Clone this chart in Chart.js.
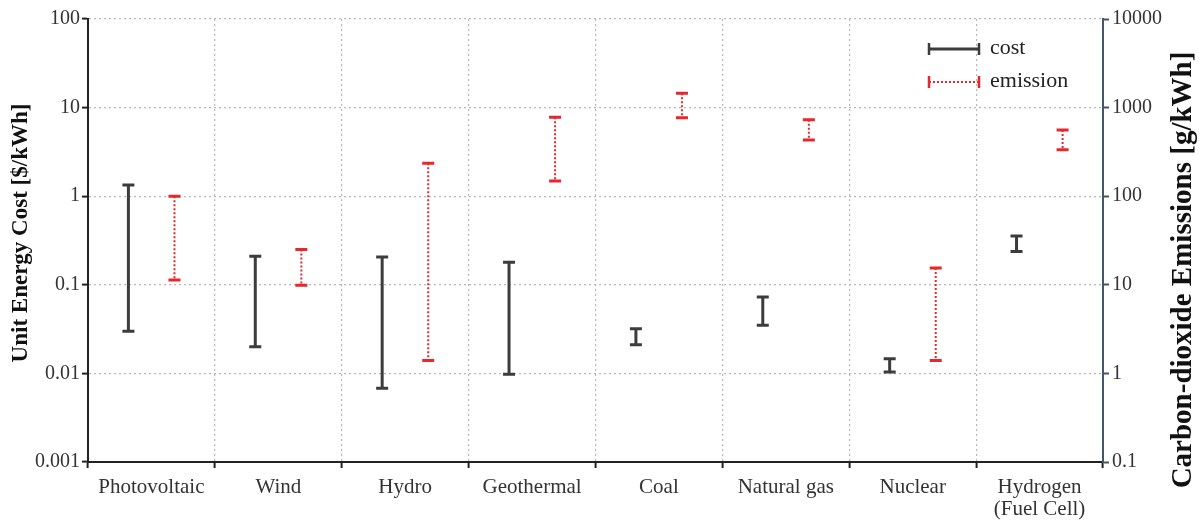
<!DOCTYPE html>
<html>
<head>
<meta charset="utf-8">
<script src="https://cdn.jsdelivr.net/npm/chart.js@4.4.0/dist/chart.umd.min.js"></script>
<style>
  html, body { margin: 0; padding: 0; background: #fff; }
  #wrap { width: 1199px; height: 521px; }
</style>
</head>
<body>
<div id="wrap"><canvas id="energy"></canvas></div>
<script>
/*_____________________DATA____________________*/

const categories = ['Photovoltaic', 'Wind', 'Hydro', 'Geothermal', 'Coal',
                    'Natural gas', 'Nuclear', ['Hydrogen', '(Fuel Cell)']];

// unit energy cost [$/kWh]
const costLow  = [0.030, 0.020, 0.0068, 0.0098, 0.021, 0.035, 0.0104, 0.237];
const costHigh = [1.34, 0.21, 0.206, 0.18, 0.032, 0.073, 0.0146, 0.355];

// CO2 emissions [g/kWh]
const emissionLow  = [11.3, 9.9, 1.4, 148, 770, 430, 1.4, 335];
const emissionHigh = [100, 25, 236, 780, 1450, 730, 15.5, 560];

const costTicks = [0.001, 0.01, 0.1, 1, 10, 100];
const emissionTicks = [0.1, 1, 10, 100, 1000, 10000];

/*_____________________SETUP____________________*/

const serif = "'Liberation Serif', 'Times New Roman', serif";
const gridGrey = '#b8b8b8';

const energy_setup = {
  labels: categories,
  datasets: [
    {
      label: 'cost',
      data: costLow.map((v, i) => [v, costHigh[i]]),
      yAxisID: 'y',
      backgroundColor: 'rgba(0,0,0,0)',
      borderWidth: 0,
      lineColor: '#3c3c3c',
      lineW: 3,
      dash: [],
    },
    {
      label: 'emission',
      data: emissionLow.map((v, i) => [v, emissionHigh[i]]),
      yAxisID: 'y2',
      backgroundColor: 'rgba(0,0,0,0)',
      borderWidth: 0,
      lineColor: '#e8262c',
      lineW: 2,
      dash: [2, 2],
    }
  ]
}

function sideTitle(ctx, text, x, y, size) {
  ctx.save();
  ctx.translate(x, y);
  ctx.rotate(-Math.PI / 2);
  ctx.fillStyle = '#111';
  ctx.font = 'bold ' + size + 'px ' + serif;
  ctx.textAlign = 'center';
  ctx.textBaseline = 'middle';
  ctx.fillText(text, 0, 0);
  ctx.restore();
}

// draws range lines with caps on top of the (invisible) floating bars
const errorBars = {
  id: 'errorBars',
  afterDatasetsDraw(chart) {
    const ctx = chart.ctx;
    chart.data.datasets.forEach((ds, i) => {
      chart.getDatasetMeta(i).data.forEach(bar => {
        const top = Math.min(bar.y, bar.base);
        const bot = Math.max(bar.y, bar.base);
        ctx.save();
        ctx.strokeStyle = ds.lineColor;
        ctx.lineWidth = ds.lineW;
        ctx.setLineDash(ds.dash);
        ctx.beginPath();
        ctx.moveTo(bar.x, top);
        ctx.lineTo(bar.x, bot);
        ctx.stroke();
        ctx.setLineDash([]);
        ctx.lineWidth = 3;
        ctx.beginPath();
        ctx.moveTo(bar.x - 6, top); ctx.lineTo(bar.x + 6, top);
        ctx.moveTo(bar.x - 6, bot); ctx.lineTo(bar.x + 6, bot);
        ctx.stroke();
        ctx.restore();
      });
    });
  },
  afterDraw(chart) {
    const ctx = chart.ctx;
    const area = chart.chartArea;
    // legend
    const x0 = area.right - 174, x1 = area.right - 124;
    chart.data.datasets.forEach((ds, i) => {
      const y = 49 + i * 33;
      ctx.save();
      ctx.strokeStyle = ds.lineColor;
      ctx.lineWidth = ds.lineW;
      ctx.setLineDash(ds.dash);
      ctx.beginPath();
      ctx.moveTo(x0, y); ctx.lineTo(x1, y);
      ctx.stroke();
      ctx.setLineDash([]);
      ctx.lineWidth = 2.5;
      ctx.beginPath();
      ctx.moveTo(x0, y - 6); ctx.lineTo(x0, y + 6);
      ctx.moveTo(x1, y - 6); ctx.lineTo(x1, y + 6);
      ctx.stroke();
      ctx.fillStyle = '#222';
      ctx.font = '22px ' + serif;
      ctx.textBaseline = 'middle';
      ctx.textAlign = 'left';
      ctx.fillText(ds.label, x1 + 11, y - 1);
      ctx.restore();
    });
    // axis titles, both read bottom to top
    sideTitle(ctx, 'Unit Energy Cost [$/kWh]', 21, 233, 23);
    sideTitle(ctx, 'Carbon-dioxide Emissions [g/kWh]', 1184, 270, 29);
  }
};

const energy = document.getElementById('energy');
new Chart(energy, {
  type: 'bar',
  data: energy_setup,
  plugins: [errorBars],
  options: {
    responsive: true,
    maintainAspectRatio: false,
    animation: false,
    layout: {padding: {top: 19, left: 0, right: 0, bottom: 0}},
    plugins: {
      legend: {display: false},
      tooltip: {enabled: false},
    },
    datasets: {
      bar: {categoryPercentage: 0.726, barPercentage: 1}
    },
    scales: {
      x: {
        type: 'category',
        offset: true,
        afterFit: s => { s.height = 59; },
        grid: {offset: true, color: gridGrey, lineWidth: 1.2, tickColor: '#222',
               tickLength: 6, tickWidth: 2},
        border: {color: '#222', width: 2, dash: [2, 3]},
        ticks: {color: '#333', font: {family: serif, size: 21, lineHeight: 1.05}, padding: 8,
                maxRotation: 0, autoSkip: false},
      },
      y: {
        type: 'logarithmic',
        position: 'left',
        min: 0.001,
        max: 100,
        afterFit: s => { s.width = 88; },
        afterBuildTicks: s => { s.ticks = costTicks.map(v => ({value: v})); },
        grid: {color: gridGrey, lineWidth: 1.2, tickColor: '#222', tickLength: 6, tickWidth: 2},
        border: {color: '#222', width: 2, dash: [2, 3]},
        ticks: {color: '#333', font: {family: serif, size: 20}, padding: 2,
                callback: v => String(v)},
      },
      y2: {
        type: 'logarithmic',
        position: 'right',
        min: 0.1,
        max: 10000,
        afterFit: s => { s.width = 96; },
        afterBuildTicks: s => { s.ticks = emissionTicks.map(v => ({value: v})); },
        grid: {drawOnChartArea: false, tickColor: '#44566a', tickLength: 6, tickWidth: 2},
        border: {color: '#44566a', width: 2},
        ticks: {color: '#333', font: {family: serif, size: 20}, padding: 3,
                callback: v => String(v)},
      },
    },
  },
});
</script>
</body>
</html>
